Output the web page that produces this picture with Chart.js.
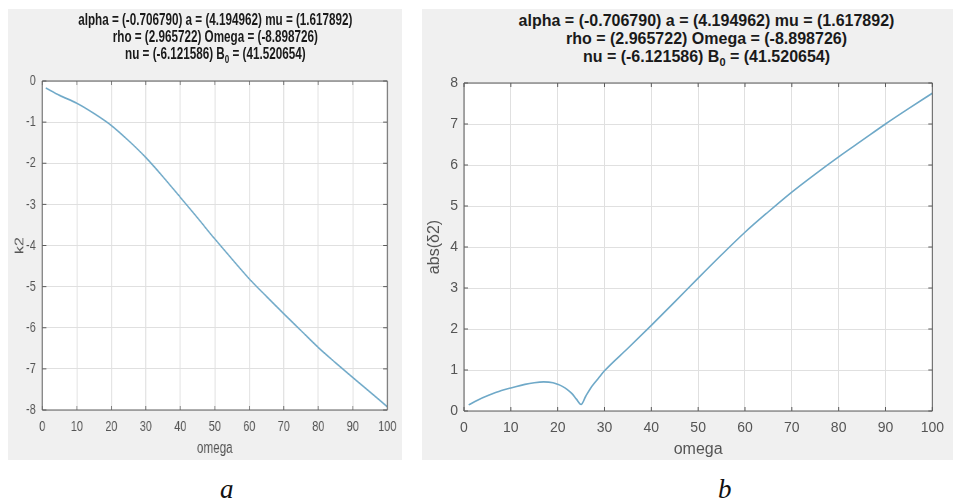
<!DOCTYPE html>
<html>
<head>
<meta charset="utf-8">
<script src="https://cdn.jsdelivr.net/npm/chart.js@4.4.1/dist/chart.umd.min.js"></script>
<style>
  body { margin: 0; width: 963px; height: 503px; background: #fff; position: relative; overflow: hidden;
         font-family: "Liberation Sans", Arial, sans-serif; }
  .panel { position: absolute; top: 9px; height: 451px; background: #f0f0f0; overflow: hidden; }
  .wrap { position: absolute; left: 0; top: 0; height: 451px; }
  .ttl { position: absolute; text-align: center; font-weight: bold; font-size: 16px; color: #1a1a1a; white-space: nowrap; }
  .ttl sub { font-size: 11px; line-height: 0; vertical-align: -4px; }
  canvas { position: absolute; left: 0; top: 0; }
  .cap { position: absolute; top: 474px; font-family: "Liberation Serif", "Times New Roman", serif; font-style: italic; font-size: 27px; color: #111; }
</style>
</head>
<body>

<div class="panel" style="left:8px; width:394px;">
  <div class="wrap" style="width:540px; transform:scaleX(0.73); transform-origin:0 0;">
    <div class="ttl" style="left:47px; width:474px; top:2px; line-height:17px;">
      alpha = (-0.706790) a = (4.194962) mu = (1.617892)<br>
      rho = (2.965722) Omega = (-8.898726)<br>
      nu = (-6.121586) B<sub>0</sub> = (41.520654)
    </div>
    <canvas id="chartA" width="540" height="451"></canvas>
  </div>
</div>

<div class="panel" style="left:422px; width:531px;">
  <div class="wrap" style="width:531px;">
    <div class="ttl" style="left:42px; width:485px; top:3px; line-height:18px;">
      alpha = (-0.706790) a = (4.194962) mu = (1.617892)<br>
      rho = (2.965722) Omega = (-8.898726)<br>
      nu = (-6.121586) B<sub>0</sub> = (41.520654)
    </div>
    <canvas id="chartB" width="531" height="451"></canvas>
  </div>
</div>

<div class="cap" style="left:220px;">a</div>
<div class="cap" style="left:718px;">b</div>

<script>
// panel a: k2 against omega
const omegaA = [1, 5, 10, 15, 20, 25, 30, 35, 40, 45, 50, 55, 60, 65, 70, 75, 80, 85, 90, 95, 100];
const k2 = [-0.17, -0.35, -0.54, -0.79, -1.08, -1.45, -1.86, -2.33, -2.83, -3.33, -3.84,
            -4.33, -4.81, -5.24, -5.66, -6.07, -6.48, -6.85, -7.21, -7.56, -7.92];

// panel b: abs(delta2) against omega
const omegaB = [1, 3, 5, 8, 10, 13, 15, 17, 19, 20, 21, 22, 23, 24, 25, 26, 27, 28, 29, 30,
                35, 40, 45, 50, 55, 60, 65, 70, 75, 80, 85, 90, 95, 100];
const absDelta2 = [0.15, 0.27, 0.37, 0.50, 0.56, 0.65, 0.69, 0.71, 0.69, 0.65, 0.60, 0.53, 0.43, 0.29, 0.16,
                   0.36, 0.55, 0.70, 0.84, 0.98, 1.53, 2.09, 2.66, 3.24, 3.81, 4.36, 4.86, 5.34, 5.78,
                   6.2, 6.6, 7.0, 7.38, 7.75];

const xRange = [0, 100];
const yRangeA = [-8, 0];
const yRangeB = [0, 8];

const lineColor = '#6fa9c8';
const gridColor = '#e0e0e0';
const axisColor = '#5c5c5c';
const tickColor = '#555555';

// MATLAB-ish box with inward tick marks on all four sides
const boxPlugin = {
    id: 'box',
    beforeDatasetsDraw(chart) {
        const { ctx, chartArea: a } = chart;
        ctx.save();
        ctx.fillStyle = '#ffffff';
        ctx.globalCompositeOperation = 'destination-over';
        ctx.fillRect(a.left, a.top, a.right - a.left, a.bottom - a.top);
        ctx.restore();
    },
    afterDatasetsDraw(chart, args, opts) {
        const { ctx, chartArea: a, scales: { x, y } } = chart;
        const sx = opts.sx || 1;
        ctx.save();
        ctx.strokeStyle = axisColor;
        ctx.lineWidth = 1;
        ctx.beginPath();
        x.ticks.forEach(t => {
            const px = x.getPixelForValue(t.value);
            ctx.moveTo(px, a.bottom); ctx.lineTo(px, a.bottom - 4);
            ctx.moveTo(px, a.top); ctx.lineTo(px, a.top + 4);
        });
        y.ticks.forEach(t => {
            const py = y.getPixelForValue(t.value);
            ctx.moveTo(a.left, py); ctx.lineTo(a.left + 4 / sx, py);
            ctx.moveTo(a.right, py); ctx.lineTo(a.right - 4 / sx, py);
        });
        ctx.stroke();
        // frame: horizontal edges 1px, vertical edges widened to survive the squeeze
        ctx.beginPath();
        ctx.moveTo(a.left, a.top); ctx.lineTo(a.right, a.top);
        ctx.moveTo(a.left, a.bottom); ctx.lineTo(a.right, a.bottom);
        ctx.stroke();
        ctx.lineWidth = 1 / sx;
        ctx.beginPath();
        ctx.moveTo(a.left, a.top); ctx.lineTo(a.left, a.bottom);
        ctx.moveTo(a.right, a.top); ctx.lineTo(a.right, a.bottom);
        ctx.stroke();
        ctx.restore();
    }
};

function makeChart(id, xs, ys, yRange, yLabel, cfg) {
    const points = xs.map((v, i) => ({ x: v, y: ys[i] }));
    return new Chart(document.getElementById(id).getContext('2d'), {
        type: 'line',
        data: {
            datasets: [{
                data: points,
                borderColor: lineColor,
                borderWidth: cfg.lineWidth,
                pointRadius: 0,
                cubicInterpolationMode: 'monotone',
                fill: false
            }]
        },
        options: {
            responsive: false,
            animation: false,
            events: [],
            layout: { padding: { top: cfg.top, right: cfg.right, left: 0, bottom: 0 } },
            scales: {
                x: {
                    type: 'linear',
                    min: xRange[0], max: xRange[1],
                    afterFit: s => { s.height = cfg.xh; },
                    border: { display: false },
                    grid: { color: gridColor, lineWidth: 1 / cfg.sx, drawTicks: false },
                    ticks: { stepSize: 10, color: tickColor, padding: cfg.xpad,
                             font: { family: 'Liberation Sans', size: cfg.tickSize } },
                    title: { display: true, text: 'omega', color: tickColor,
                             font: { family: 'Liberation Sans', size: 16 },
                             padding: { top: 0, bottom: cfg.xtb } }
                },
                y: {
                    min: yRange[0], max: yRange[1],
                    afterFit: s => { s.width = cfg.yw; },
                    border: { display: false },
                    grid: { color: gridColor, drawTicks: false },
                    ticks: { stepSize: 1, color: tickColor, padding: cfg.ypad,
                             font: { family: 'Liberation Sans', size: cfg.tickSize } },
                    title: { display: true, text: yLabel, color: tickColor,
                             font: { family: 'Liberation Sans', size: 16 },
                             padding: { top: cfg.ytp, bottom: 0 } }
                }
            },
            plugins: {
                legend: { display: false },
                tooltip: { enabled: false },
                box: { sx: cfg.sx }
            }
        },
        plugins: [boxPlugin]
    });
}

makeChart('chartA', omegaA, k2, yRangeA, 'k2',
    { sx: 0.73, top: 72, right: 19.5, yw: 47, xh: 50, xpad: 8, xtb: 2, ypad: 9, ytp: 7, lineWidth: 1.7, tickSize: 15 });

makeChart('chartB', omegaB, absDelta2, yRangeB, 'abs(\u03b42)',
    { sx: 1, top: 74, right: 4.5, yw: 42, xh: 49, xpad: 9, xtb: 1, ypad: 6, ytp: 3, lineWidth: 1.6, tickSize: 14 });
</script>
</body>
</html>
